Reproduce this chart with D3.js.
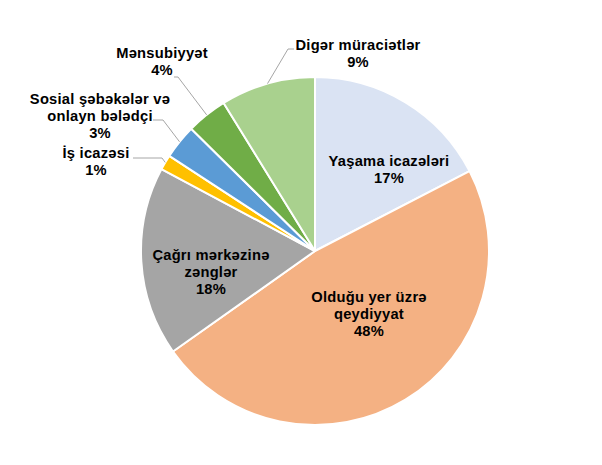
<!DOCTYPE html>
<html>
<head>
<meta charset="utf-8">
<script src="https://cdn.jsdelivr.net/npm/d3@7"></script>
<style>
  body { margin: 0; background: #fff; }
  text { font-family: "Liberation Sans", Arial, sans-serif; font-weight: bold; font-size: 14.7px; letter-spacing: 0.25px; fill: #000; }
</style>
</head>
<body>
<div id="chart"></div>
<script>
// slices, clockwise from 12 o'clock
var categories = ["Yaşama icazələri", "Olduğu yer üzrə qeydiyyat", "Çağrı mərkəzinə zənglər",
  "İş icazəsi", "Sosial şəbəkələr və onlayn bələdçi", "Mənsubiyyət", "Digər müraciətlər"];
var values = [17.4, 47.8, 17.6, 1.4, 3.2, 3.8, 8.8];
var percentLabels = ["17%", "48%", "18%", "1%", "3%", "4%", "9%"];
var labelLines = [
  ["Yaşama icazələri"],
  ["Olduğu yer üzrə", "qeydiyyat"],
  ["Çağrı mərkəzinə", "zənglər"],
  ["İş icazəsi"],
  ["Sosial şəbəkələr və", "onlayn bələdçi"],
  ["Mənsubiyyət"],
  ["Digər müraciətlər"]
];
var colors = ["#dae3f3", "#f4b183", "#a5a5a5", "#ffc000", "#5b9bd5", "#70ad47", "#a9d18e"];

// label placement (centre of first text line) and leader line for outside labels
var labelPos = [[389, 161], [369, 297], [211, 255], [96, 153], [100, 99], [162, 53], [358, 45]];
var leaders = [null, null, null,
  [[133, 158], [162, 158]],
  [[153, 120], [163, 120]],
  [[174, 77], [178, 77]],
  [[294, 49], [288, 49]]];

const width = 602, height = 465;
const cx = 315, cy = 251, radius = 174;
const lineH = 17;

var svg = d3.select("#chart").append("svg")
  .attr("width", width)
  .attr("height", height);

var g = svg.append("g").attr("transform", `translate(${cx},${cy})`);

var pie = d3.pie().sort(null).value(d => d);
var arc = d3.arc().innerRadius(0).outerRadius(radius);
var arcs = pie(values);

g.selectAll("path.slice")
  .data(arcs)
  .enter().append("path")
  .attr("class", "slice")
  .attr("d", arc)
  .attr("fill", (d, i) => colors[i])
  .attr("stroke", "#fff")
  .attr("stroke-width", 2)
  .attr("stroke-linejoin", "round");

// leader lines go from the slice mid-angle on the rim to the label
arcs.forEach(function (d, i) {
  if (!leaders[i]) return;
  var mid = (d.startAngle + d.endAngle) / 2;
  var px = cx + radius * Math.sin(mid), py = cy - radius * Math.cos(mid);
  var pts = leaders[i].concat([[px, py]]);
  svg.append("path")
    .attr("d", d3.line()(pts))
    .attr("fill", "none")
    .attr("stroke", "#a6a6a6")
    .attr("stroke-width", 1);
});

// labels
labelLines.forEach(function (lines, i) {
  var all = lines.concat([percentLabels[i]]);
  var t = svg.append("text")
    .attr("text-anchor", "middle")
    .attr("x", labelPos[i][0])
    .attr("y", labelPos[i][1]);
  all.forEach(function (s, j) {
    t.append("tspan")
      .attr("x", labelPos[i][0])
      .attr("y", labelPos[i][1] + j * lineH)
      .attr("dy", "0.35em")
      .text(s);
  });
});
</script>
</body>
</html>
